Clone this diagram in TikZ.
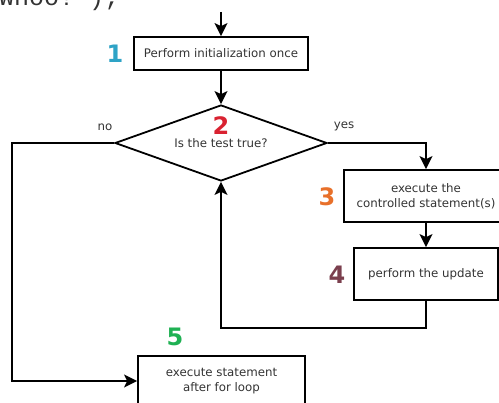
\documentclass[tikz,border=0pt]{standalone}
\usepackage{fontspec}
\setmainfont{DejaVu Sans}
\setmonofont{Liberation Mono}
\usetikzlibrary{positioning,shapes.geometric,arrows.meta,calc}
\definecolor{inkgray}{HTML}{333333}
\definecolor{numblue}{HTML}{2EA3C6}
\definecolor{numred}{HTML}{D92231}
\definecolor{numorange}{HTML}{E8702A}
\definecolor{nummaroon}{HTML}{7B3F4E}
\definecolor{numgreen}{HTML}{1FB153}

\begin{document}
\begin{tikzpicture}[
      x=1pt, y=-1pt,
      >={Stealth[length=13pt,width=13pt,inset=3pt]},
      every node/.style={text=inkgray, align=center, font=\fontsize{11.8}{15}\selectfont},
      stepbox/.style={
        rectangle,
        draw=black,
        line width=1.8pt,
        inner sep=0pt,
      },
      decision/.style={
        diamond,
        draw=black,
        line width=1.8pt,
        inner sep=0pt,
        aspect=2.8,
        minimum width=212pt,
        minimum height=76pt,
      },
      num/.style={font=\fontsize{24}{26}\selectfont\bfseries},
      flow/.style={line width=1.8pt, ->},
      ]
      \useasboundingbox (0,0) rectangle (499,403);
      \clip (0,0) rectangle (499,403);
      % leftover line of code above the chart
      \node[anchor=base west, inner sep=0pt, font=\fontsize{25}{25}\ttfamily] (code) at (-1,6) {Whoo!");};
      % steps of the loop
      \coordinate (entry) at (221,12);
      \node[stepbox, minimum width=174pt, minimum height=33pt] (init) at (221,53.5) {Perform initialization once};
      \node[decision] (test) at (221,143) {};
      \node (testtxt) at (221,143) {Is the test true?};
      \node[stepbox, minimum width=164pt, minimum height=52pt] (body) at (426,196) {execute the\\controlled statement(s)};
      \node[stepbox, minimum width=144pt, minimum height=52pt] (update) at (426,274) {perform the update};
      \node[stepbox, minimum width=167pt, minimum height=60pt] (after) at (221.5,386) {};
      \node (aftertxt) at (221.5,381) {execute statement\\after for loop};
      % step numbers
      \node[num, text=numblue] (n1) at (115,54) {1};
      \node[num, text=numred] (n2) at (221,126) {2};
      \node[num, text=numorange] (n3) at (327,197) {3};
      \node[num, text=nummaroon] (n4) at (337,275) {4};
      \node[num, text=numgreen] (n5) at (175,337) {5};
      % branch labels
      \node (no) at (105,127) {no};
      \node (yes) at (344,126) {yes};
      % connectors
      \coordinate (loopback) at (426,328);
      \coordinate (exitcorner) at (12,143);
      \draw[flow] (entry) -- (init.north);
      \draw[flow] (init.south) -- (test.north);
      \draw[flow] (test.east) -| (body.north);
      \draw[flow] (body.south) -- (update.north);
      \draw[flow] (update.south) -- (loopback) -| (test.south);
      \draw[flow] (test.west) -- (exitcorner) |- (after.west |- aftertxt);
\end{tikzpicture}
\end{document}
